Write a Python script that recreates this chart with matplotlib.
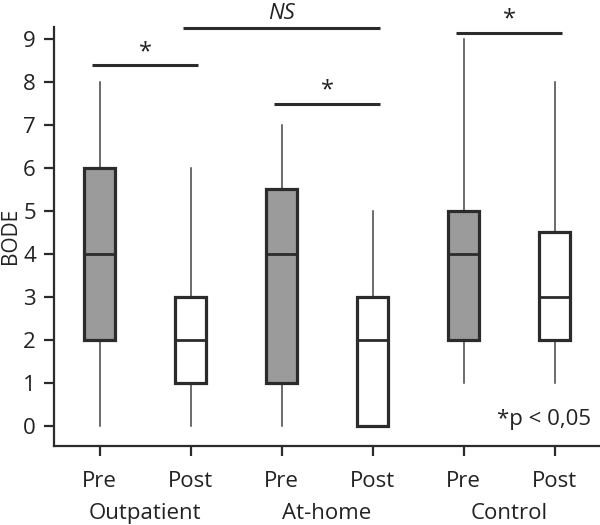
import matplotlib
matplotlib.use("Agg")
import matplotlib.pyplot as plt

plt.rcParams['font.family'] = ['Open Sans', 'DejaVu Sans']

conditions = ["Pre", "Post", "Pre", "Post", "Pre", "Post"]
groups = ["Outpatient", "At-home", "Control"]
whisker_low = [0, 0, 0, 0, 1, 1]
q1 = [2, 1, 1, 0, 2, 2]
median = [4, 2, 4, 2, 4, 3]
q3 = [6, 3, 5.5, 3, 5, 4.5]
whisker_high = [8, 6, 7, 5, 9, 8]
fills = ["#9b9b9b", "white", "#9b9b9b", "white", "#9b9b9b", "white"]
yticks = list(range(0, 10))

# significance annotations: (x1, x2, y, label)
sig_x1 = [1, 2, 3, 5]
sig_x2 = [2, 4, 4, 6]
sig_y = [8.4, 9.25, 7.5, 9.15]
sig_label = ["*", "NS", "*", "*"]

FS = 16

fig = plt.figure(figsize=(6, 5.25), dpi=100)
ax = fig.add_axes([0.09, 0.1505, 0.91, 0.798])

stats = []
for i in range(6):
    stats.append(dict(whislo=whisker_low[i], q1=q1[i], med=median[i],
                      q3=q3[i], whishi=whisker_high[i], fliers=[]))
positions = list(range(1, 7))
bp = ax.bxp(stats, positions=positions, widths=0.35, patch_artist=True,
            showcaps=False, showfliers=False,
            boxprops=dict(edgecolor="#2b2b2b", linewidth=2.3),
            medianprops=dict(color="#2b2b2b", linewidth=2.0),
            whiskerprops=dict(color="#444444", linewidth=1.1))
for patch, c in zip(bp['boxes'], fills):
    patch.set_facecolor(c)
    patch.set_zorder(3)
for m in bp['medians']:
    m.set_zorder(4)

for x1, x2, y, lab in zip(sig_x1, sig_x2, sig_y, sig_label):
    ax.plot([x1 - 0.08, x2 + 0.08], [y, y], color="#2b2b2b", lw=2.2,
            clip_on=False, solid_capstyle='butt')
    if lab == "NS":
        ax.text((x1 + x2) / 2, y + 0.1, lab, ha="center", va="bottom",
                fontsize=FS, style="italic", color="#222222")
    else:
        ax.text((x1 + x2) / 2, y + 0.02, lab, ha="center", va="bottom",
                fontsize=FS + 1, color="#222222")

ax.text(6.4, 0.02, "*p < 0,05", ha="right", va="baseline", fontsize=FS,
        color="#222222")

ax.set_xlim(0.5, 6.5)
ax.set_ylim(-0.47, 9.28)
ax.set_yticks(yticks)
ax.set_xticks(positions)
ax.set_xticklabels(conditions)
ax.spines['top'].set_visible(False)
ax.spines['right'].set_visible(False)
for s in ['left', 'bottom']:
    ax.spines[s].set_linewidth(1.6)
    ax.spines[s].set_color("#2b2b2b")
ax.tick_params(axis='both', direction='out', length=7, width=1.6,
               colors="#2b2b2b", labelsize=FS, labelcolor="#222222")
ax.tick_params(axis='x', pad=11)
ax.tick_params(axis='y', pad=6)

fig.text(0.017, 0.55, "BODE", rotation=90, ha="center", va="center",
         fontsize=FS - 1, color="#222222")

for j, g in enumerate(groups):
    ax.text(1.5 + 2 * j, -0.137, g, transform=ax.get_xaxis_transform(),
            ha="center", va="top", fontsize=FS, color="#222222")

fig.savefig("out.png", dpi=100)
